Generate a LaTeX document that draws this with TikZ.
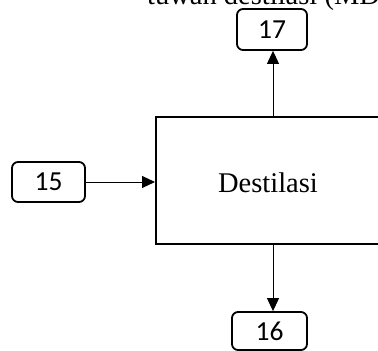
\documentclass[tikz,border=0pt]{standalone}
\usepackage{fontspec}
\setmainfont{Liberation Serif}
\newfontfamily\numfont{Carlito}
\usetikzlibrary{arrows.meta}
\begin{document}
\begin{tikzpicture}[x=1pt,y=-1pt,
  numbox/.style={draw,line width=1.8pt,rounded corners=6pt,inner sep=0pt,font=\numfont\fontsize{27.5}{28}\selectfont},
  mainbox/.style={draw,line width=2pt,inner sep=0pt},
  flow/.style={line width=1pt,-{Triangle[length=13pt,width=12pt]}}]
\useasboundingbox (0,0) rectangle (378,351);
\clip (0,0) rectangle (378,351);
\node[mainbox,minimum width=234pt,minimum height=127pt] (main) at (273,180.5) {};
\node[font=\fontsize{28.5}{30}\selectfont] (lbl) at (268,183) {Destilasi};
\node[numbox,minimum width=73pt,minimum height=40pt] (b15) at (48.5,182) {15};
\node[numbox,minimum width=70pt,minimum height=41pt] (b17) at (272,29.5) {17};
\node[numbox,minimum width=75pt,minimum height=38pt] (b16) at (269.5,331) {16};
\node[anchor=base west,inner sep=0pt,font=\fontsize{28.5}{30}\selectfont] (title) at (147,4.5) {tuwan destilasi (MD};
\draw[flow] (b15.east) -- (b15.east -| main.west);
\draw[flow] (main.north) -- (main.north |- b17.south);
\draw[flow] (main.south) -- (main.south |- b16.north);
\end{tikzpicture}
\end{document}
